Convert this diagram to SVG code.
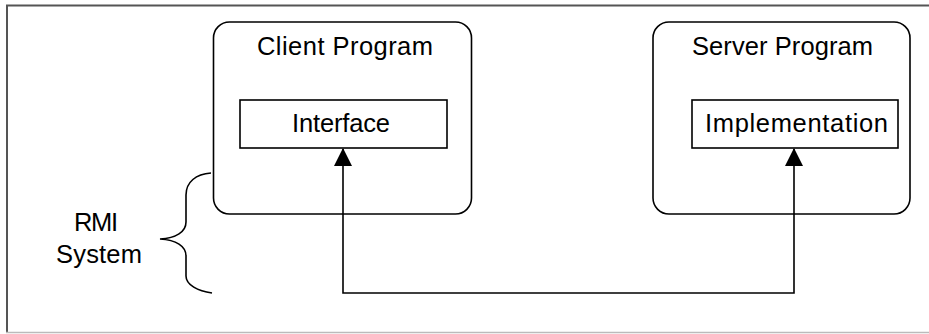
<svg xmlns="http://www.w3.org/2000/svg" width="929" height="334" viewBox="0 0 929 334">
<style>
text{font-family:"Liberation Sans",Arial,sans-serif;font-size:25.5px;fill:#000}
.box{fill:none;stroke:#000;stroke-width:1.6}
.line{fill:none;stroke:#000;stroke-width:1.6}
</style>
<defs>
<marker id="arr" markerUnits="userSpaceOnUse" markerWidth="18" markerHeight="20" refX="17" refY="9" orient="auto-start-reverse">
<path d="M0,0 L18,9 L0,18 Z" fill="#000"/>
</marker>
</defs>
<rect width="929" height="334" fill="#fff"/>
<g id="frame">
<line x1="6" y1="5.5" x2="929" y2="5.5" stroke="#555" stroke-width="2"/>
<line x1="7" y1="5" x2="7" y2="332" stroke="#555" stroke-width="2"/>
<line x1="6" y1="332.5" x2="929" y2="332.5" stroke="#bbb" stroke-width="1.5"/>
</g>
<g id="client">
<rect class="box" x="213.5" y="22" width="258" height="192" rx="16"/>
<text x="257" y="55" textLength="176" lengthAdjust="spacing">Client Program</text>
</g>
<g id="interface">
<rect class="box" x="240" y="100" width="207" height="48"/>
<text x="292" y="132" textLength="98" lengthAdjust="spacing">Interface</text>
</g>
<g id="server">
<rect class="box" x="653" y="22" width="257" height="192" rx="16"/>
<text x="692" y="55" textLength="181" lengthAdjust="spacing">Server Program</text>
</g>
<g id="implementation">
<rect class="box" x="692" y="100" width="206" height="48"/>
<text x="705" y="132" textLength="183" lengthAdjust="spacing">Implementation</text>
</g>
<g id="rmi">
<path class="line" d="M211,173 C196,174 186,182 186,195 L186,222 C186,232 176,238 160,239 C176,240 186,246 186,256 L186,276 C186,285 198,291 212,293"/>
<text x="74" y="231" textLength="44" lengthAdjust="spacing">RMI</text>
<text x="56" y="263" textLength="86" lengthAdjust="spacing">System</text>
</g>
<g id="connectors">
<path class="line" d="M343,149 L343,293 L794,293 L794,149" marker-start="url(#arr)" marker-end="url(#arr)"/>
</g>
</svg>
